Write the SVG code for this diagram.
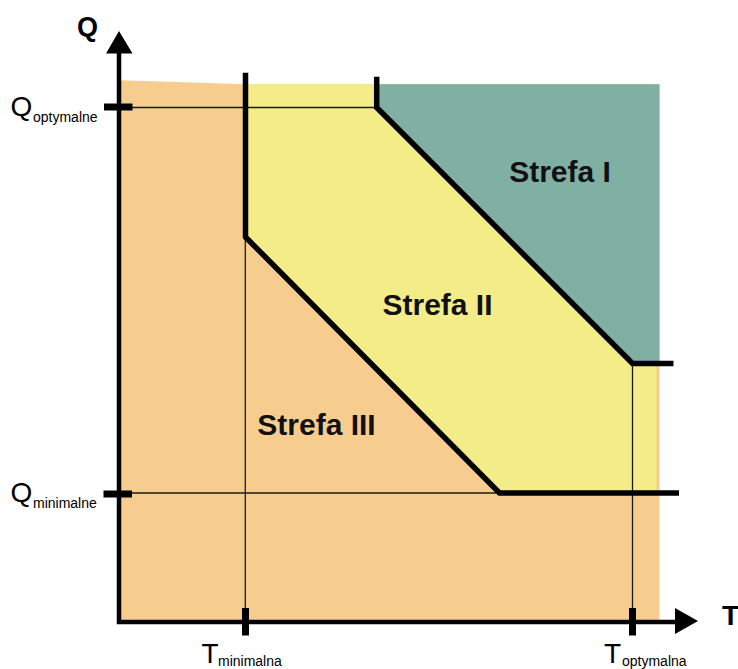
<svg xmlns="http://www.w3.org/2000/svg" width="738" height="669" viewBox="0 0 738 669">
<style>
.thin{stroke:#1a1a1a;stroke-width:1.3;fill:none}
.thick{stroke:#000;stroke-width:5.5;fill:none;stroke-linejoin:miter}
.axis{stroke:#000;stroke-width:4.5;fill:none}
.tick{stroke:#000;stroke-width:7;fill:none}
.lbl{font-family:"Liberation Sans",Arial,sans-serif;fill:#000}
.zone{font-family:"Liberation Sans",Arial,sans-serif;font-weight:bold;font-size:30px;fill:#111;text-anchor:middle}
</style>
<rect width="738" height="669" fill="#fff"/>
<g id="zones">
<polygon id="zone3" points="121,80.3 245,84.3 659.5,84.3 659.5,620 121,620" fill="#F7CD8F"/>
<polygon id="zone2" points="245,84.3 656.5,84.3 656.5,493 499.5,493 245.5,237" fill="#F4EC89"/>
<polygon id="zone1" points="377,84.3 659.5,84.3 659.5,363.5 632.5,363.5 377,108" fill="#80AFA4"/>
</g>
<g id="connectors">
<line class="thin" x1="119" y1="107.5" x2="377" y2="107.5"/>
<line class="thin" x1="119" y1="493" x2="500" y2="493"/>
<line class="thin" x1="245.3" y1="237" x2="245.3" y2="620"/>
<line class="thin" x1="632.5" y1="363.5" x2="632.5" y2="620"/>
<polyline class="thick" points="245.5,72.7 245.5,237 499.5,493 679,493"/>
<polyline class="thick" points="376.7,76.7 376.7,107.5 632.5,363.5 673.5,363.5"/>
</g>
<g id="axes">
<polyline class="axis" points="119,50 119,622 678,622"/>
<polygon points="119,31 106,53.5 132.5,53.5" fill="#000"/>
<polygon points="698,621 675,608 675,634" fill="#000"/>
<line class="tick" x1="104" y1="107" x2="132.5" y2="107"/>
<line class="tick" x1="103.5" y1="494" x2="132" y2="494"/>
<line class="tick" x1="245.5" y1="608" x2="245.5" y2="635.5"/>
<line class="tick" x1="632.5" y1="608" x2="632.5" y2="635.5"/>
</g>
<g id="labels">
<text class="lbl" x="77" y="36" font-size="27" font-weight="bold">Q</text>
<text class="lbl" x="722" y="625" font-size="28" font-weight="bold">T</text>
<text class="lbl" x="10.5" y="115.5" font-size="28">Q<tspan x="33" y="121.5" font-size="14">optymalne</tspan></text>
<text class="lbl" x="10.5" y="501.5" font-size="28">Q<tspan x="33" y="508" font-size="14">minimalne</tspan></text>
<text class="lbl" x="201.5" y="663" font-size="28">T<tspan x="218" y="666" font-size="14">minimalna</tspan></text>
<text class="lbl" x="604" y="663" font-size="28">T<tspan x="622" y="666" font-size="14">optymalna</tspan></text>
</g>
<g id="zone-labels">
<text class="zone" x="560" y="182">Strefa I</text>
<text class="zone" x="437.5" y="315">Strefa II</text>
<text class="zone" x="316.5" y="435">Strefa III</text>
</g>
</svg>
